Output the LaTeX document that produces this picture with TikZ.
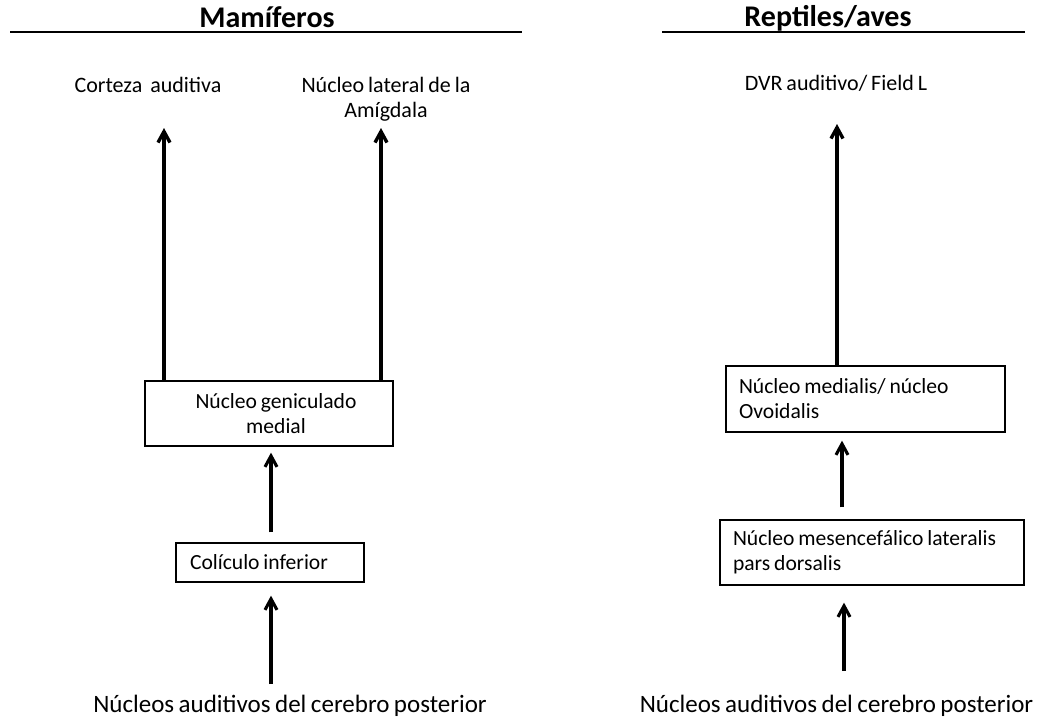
\documentclass[tikz,border=0pt]{standalone}
\usepackage{fontspec}
\setmainfont[WordSpace=0.8]{Carlito}
\usetikzlibrary{arrows.meta}
\begin{document}
\begin{tikzpicture}[x=1pt,y=-1pt,
  arr/.style={line width=3.4pt,-{Straight Barb[length=11pt,width=12pt]}},
  boxnode/.style={draw,line width=1.3pt,inner sep=0pt,font=\fontsize{21.6}{25}\selectfont},
  lbl/.style={inner sep=0pt,font=\fontsize{22}{25}\selectfont,anchor=base},
  ttl/.style={inner sep=0pt,font=\fontsize{30}{32}\selectfont\bfseries,anchor=base},
  btm/.style={inner sep=0pt,font=\fontsize{25}{28}\selectfont},
  rule/.style={line width=1.3pt}]
\useasboundingbox[fill=white] (0,0) rectangle (1048,721);
% titles
\node[ttl] (t1) at (267,27) {Mamíferos};
\node[ttl] (t2) at (828,26) {Reptiles/aves};
\coordinate (r1a) at (10,32); \coordinate (r1b) at (522,32);
\coordinate (r2a) at (662,32); \coordinate (r2b) at (1025,32);
\draw[rule] (r1a) -- (r1b);
\draw[rule] (r2a) -- (r2b);
% left column
\node[lbl] (cort) at (148,92) {Corteza\ \ auditiva};
\node[lbl,text width=200pt,align=flush center] (amig) at (386,92) {Núcleo lateral de la\\Amígdala};
\node[boxnode,minimum width=248pt,minimum height=65pt,align=center] (genic) at (269,413.5) {\hspace*{14pt}Núcleo geniculado\\\hspace*{14pt}medial};
\node[boxnode,minimum width=188pt,minimum height=39pt,text width=160pt,inner xsep=14pt,align=flush left] (coli) at (270,562.5) {Colículo inferior};
\node[btm] (nb1) at (290,706) {Núcleos auditivos del cerebro posterior};
\coordinate (xa) at (164,0); \coordinate (xb) at (381,0); \coordinate (xc) at (271,0);
\coordinate (tipa) at (164,128); \coordinate (tipb) at (381,128);
\draw[arr] (genic.north -| xa) -- (tipa);
\draw[arr] (genic.north -| xb) -- (tipb);
\draw[arr,line width=3.1pt,shorten <=10pt,shorten >=6pt] (coli.north -| xc) -- (genic.south -| xc);
\draw[arr,line width=3.1pt,shorten <=11pt,shorten >=13pt] (nb1.north -| xc) -- (coli.south -| xc);
% right column
\node[lbl] (dvr) at (836,90) {DVR auditivo/ Field L};
\node[boxnode,minimum width=279pt,minimum height=66pt,text width=253pt,inner xsep=13pt,align=flush left] (medi) at (865.5,399) {Núcleo medialis/ núcleo\\Ovoidalis};
\node[boxnode,minimum width=304pt,minimum height=65pt,text width=278pt,inner xsep=13pt,align=flush left] (mesen) at (872,552.5) {Núcleo mesencefálico lateralis\\pars dorsalis};
\node[btm] (nb2) at (836.5,706) {Núcleos auditivos del cerebro posterior};
\coordinate (xd) at (837,0); \coordinate (xe) at (842,0); \coordinate (xf) at (844,0);
\coordinate (tipd) at (837,124);
\draw[arr] (medi.north -| xd) -- (tipd);
\draw[arr,line width=3.1pt,shorten <=12pt,shorten >=8pt] (mesen.north -| xe) -- (medi.south -| xe);
\draw[arr,line width=3.1pt,shorten <=24pt,shorten >=17pt] (nb2.north -| xf) -- (mesen.south -| xf);
\end{tikzpicture}
\end{document}
